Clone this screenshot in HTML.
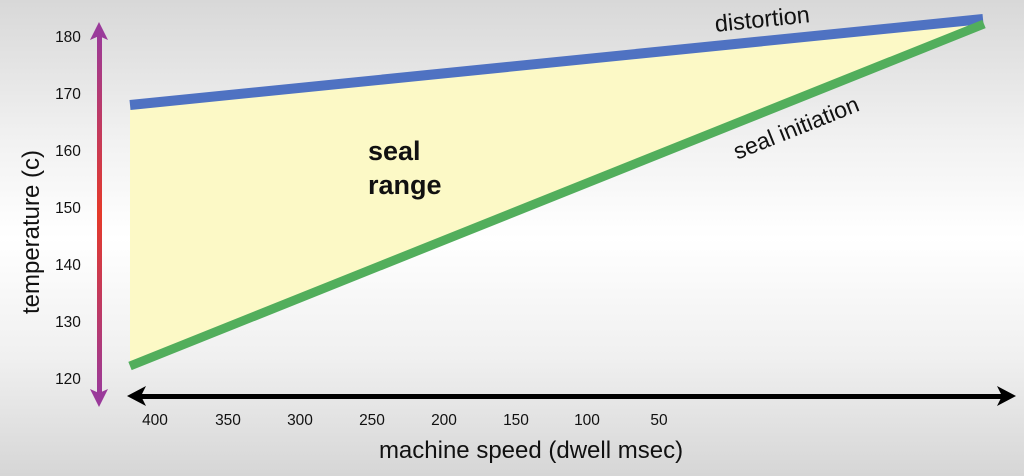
<!DOCTYPE html>
<html><head><style>
html,body{margin:0;padding:0;}
body{width:1024px;height:476px;overflow:hidden;background:linear-gradient(to bottom,#d8d8d8 0%,#f2f2f2 30%,#ffffff 50%,#f0f0f0 75%,#d6d6d6 100%);font-family:"Liberation Sans",Arial,sans-serif;}
</style></head><body>
<svg width="1024" height="476" xmlns="http://www.w3.org/2000/svg" style="position:absolute;left:0;top:0">
<defs>
<linearGradient id="pg" x1="0" y1="0" x2="0" y2="1">
<stop offset="0" stop-color="#9a3a9a"/><stop offset="0.5" stop-color="#e53a2a"/><stop offset="1" stop-color="#9a3a9a"/>
</linearGradient>
</defs>
<polygon points="130,105 983,19 983,24 130,366" fill="#fcf9c6"/>
<line x1="130" y1="105" x2="983" y2="19" stroke="#4f72c2" stroke-width="10"/>
<line x1="130" y1="366" x2="984" y2="24" stroke="#52ae5c" stroke-width="9"/>
<rect x="97" y="32" width="5" height="364" fill="url(#pg)"/>
<polygon points="99,22 90,40 99,36 108,40" fill="#9a3a9a"/>
<polygon points="99,407 90,389 99,393 108,389" fill="#9a3a9a"/>
<rect x="138" y="394" width="866" height="5" fill="#000"/>
<polygon points="127,396 146,386 141,396 146,406" fill="#000"/>
<polygon points="1016,396 997,386 1002,396 997,406" fill="#000"/>
<g font-size="15.5" fill="#111" text-anchor="middle">
<text x="68" y="42">180</text><text x="68" y="99">170</text><text x="68" y="156">160</text>
<text x="68" y="213">150</text><text x="68" y="270">140</text><text x="68" y="327">130</text><text x="68" y="384">120</text>
<text x="155" y="425">400</text><text x="228" y="425">350</text><text x="300" y="425">300</text><text x="372" y="425">250</text>
<text x="444" y="425">200</text><text x="516" y="425">150</text><text x="587" y="425">100</text><text x="659" y="425">50</text>
</g>
<text x="531" y="458" font-size="24" text-anchor="middle" fill="#111">machine speed (dwell msec)</text>
<text transform="translate(39,232) rotate(-90)" font-size="24" text-anchor="middle" fill="#111">temperature (c)</text>
<text x="368" y="160" font-size="27" font-weight="bold" fill="#111">seal</text>
<text x="368" y="194" font-size="27" font-weight="bold" fill="#111">range</text>
<text transform="translate(763,27) rotate(-5.8)" font-size="23.5" text-anchor="middle" fill="#111">distortion</text>
<text transform="translate(799,135) rotate(-21.8)" font-size="23" text-anchor="middle" fill="#111">seal initiation</text>
</svg>
</body></html>
